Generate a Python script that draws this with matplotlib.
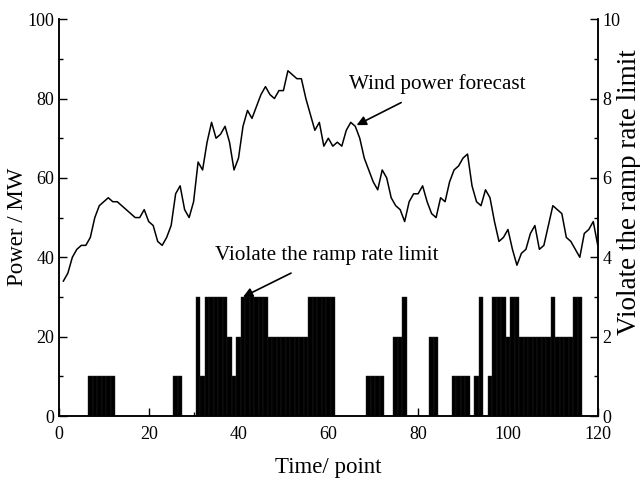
import matplotlib
matplotlib.use('Agg')
import matplotlib.pyplot as plt
from matplotlib.ticker import MultipleLocator

plt.rcParams['font.family'] = ['Liberation Serif', 'DejaVu Serif']

# wind power forecast, one value per time point (1..120)
time_points = list(range(1, 121))
forecast = [34, 36, 40, 42, 43, 43, 45, 50, 53, 54,
            55, 54, 54, 53, 52, 51, 50, 50, 52, 49,
            48, 44, 43, 45, 48, 56, 58, 52, 50, 54,
            64, 62, 69, 74, 70, 71, 73, 69, 62, 65,
            73, 77, 75, 78, 81, 83, 81, 80, 82, 82,
            87, 86, 85, 85, 80, 76, 72, 74, 68, 70,
            68, 69, 68, 72, 74, 73, 70, 65, 62, 59,
            57, 62, 60, 55, 53, 52, 49, 54, 56, 56,
            58, 54, 51, 50, 55, 54, 59, 62, 63, 65,
            66, 58, 54, 53, 57, 55, 49, 44, 45, 47,
            42, 38, 41, 42, 46, 48, 42, 43, 48, 53,
            52, 51, 45, 44, 42, 40, 46, 47, 49, 43]

# points where the ramp rate limit is violated, and how often
violate_x = [7, 8, 9, 10, 11, 12, 26, 27,
             31, 32, 33, 34, 35, 36, 37, 38, 39, 40,
             41, 42, 43, 44, 45, 46, 47, 48, 49, 50,
             51, 52, 53, 54, 55, 56, 57, 58, 59, 60, 61,
             69, 70, 71, 72, 75, 76, 77, 83, 84,
             88, 89, 90, 91, 93, 94, 96, 97, 98, 99, 100,
             101, 102, 103, 104, 105, 106, 107, 108, 109, 110,
             111, 112, 113, 114, 115, 116]
violate_n = [1, 1, 1, 1, 1, 1, 1, 1,
             3, 1, 3, 3, 3, 3, 3, 2, 1, 2,
             3, 3, 3, 3, 3, 3, 2, 2, 2, 2,
             2, 2, 2, 2, 2, 3, 3, 3, 3, 3, 3,
             1, 1, 1, 1, 2, 2, 3, 2, 2,
             1, 1, 1, 1, 1, 3, 1, 3, 3, 3, 2,
             3, 3, 2, 2, 2, 2, 2, 2, 2, 3,
             2, 2, 2, 2, 3, 3]

fig = plt.figure(figsize=(6.4, 4.79), dpi=100)
ax = fig.add_axes([0.092, 0.1315, 0.842, 0.8285])
ax2 = ax.twinx()

ax2.bar(violate_x, violate_n, width=1.0, color='black',
        edgecolor='#222222', linewidth=0.3)
ax.plot(time_points, forecast, color='black', linewidth=1.1, zorder=5)

ax.set_xlim(0, 120)
ax.set_ylim(0, 100)
ax2.set_ylim(0, 10)

ax.xaxis.set_major_locator(MultipleLocator(20))
ax.xaxis.set_minor_locator(MultipleLocator(10))
ax.yaxis.set_major_locator(MultipleLocator(20))
ax.yaxis.set_minor_locator(MultipleLocator(10))
ax2.yaxis.set_major_locator(MultipleLocator(2))
ax2.yaxis.set_minor_locator(MultipleLocator(1))

for a in (ax, ax2):
    a.spines['top'].set_visible(False)
    a.tick_params(which='major', direction='in', length=6, width=1, labelsize=13)
    a.tick_params(which='minor', direction='in', length=3, width=1)
    for s in a.spines.values():
        s.set_linewidth(1.1)
ax.tick_params(axis='y', right=False)
ax.tick_params(axis='x', pad=7)

ax.set_xlabel('Time/ point', fontsize=16.5, labelpad=10)
ax.set_ylabel('Power / MW', fontsize=16.5)
ax.yaxis.set_label_coords(-0.058, 0.476)
fig.text(630 / 640, 1 - 192 / 479, 'Violate the ramp rate limit', fontsize=19.5,
         rotation=90, ha='center', va='center')

ax2.annotate('Wind power forecast', xy=(66.3, 7.33), xytext=(84.3, 8.36),
             fontsize=15.2, ha='center', va='center',
             arrowprops=dict(arrowstyle='-|>', color='black', lw=1.2,
                             mutation_scale=14, shrinkA=9, shrinkB=0))
ax2.annotate('Violate the ramp rate limit', xy=(41.0, 3.0), xytext=(59.7, 4.05),
             fontsize=15.2, ha='center', va='center',
             arrowprops=dict(arrowstyle='-|>', color='black', lw=1.2,
                             mutation_scale=14, shrinkA=9, shrinkB=0))

fig.savefig('out.png', dpi=100)
